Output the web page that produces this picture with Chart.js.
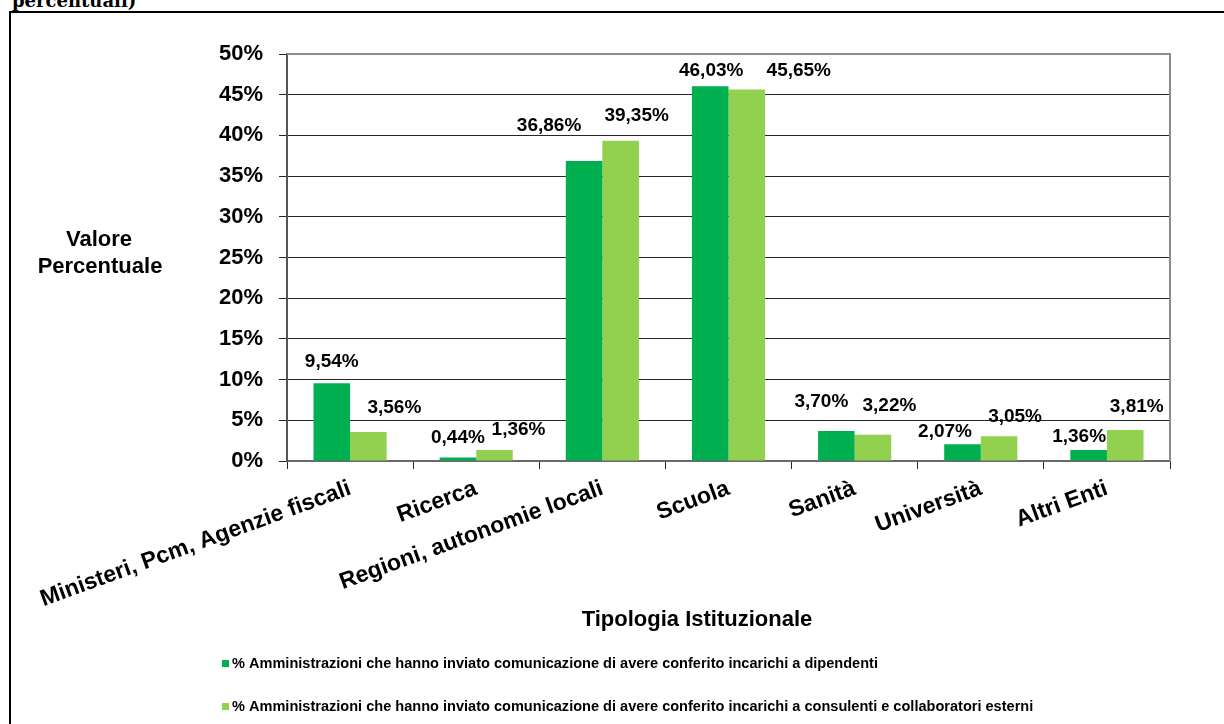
<!DOCTYPE html>
<html><head><meta charset="utf-8">
<script src="https://cdn.jsdelivr.net/npm/chart.js@4.4.1/dist/chart.umd.min.js"></script>
<style>
html,body{margin:0;padding:0;background:#fff;overflow:hidden;width:1224px;height:724px;}
#frame{position:absolute;left:9px;top:11px;width:1300px;height:800px;border:2px solid #000;}
#cap{position:absolute;left:12px;top:-8px;font:bold 18px "DejaVu Serif";line-height:18px;color:#000;white-space:nowrap;}
canvas{position:absolute;left:0;top:0;}
</style></head><body>
<div id="frame"></div>
<div id="cap">percentuali)</div>
<canvas id="c" width="1224" height="724"></canvas>
<script>
const categories = ["Ministeri, Pcm, Agenzie fiscali","Ricerca","Regioni, autonomie locali","Scuola","Sanità","Università","Altri Enti"];
const dipendenti = [9.54, 0.44, 36.86, 46.03, 3.70, 2.07, 1.36];
const consulenti = [3.56, 1.36, 39.35, 45.65, 3.22, 3.05, 3.81];
const seriesLabels = [
  "% Amministrazioni che hanno inviato comunicazione di avere conferito incarichi a dipendenti",
  "% Amministrazioni che hanno inviato comunicazione di avere conferito incarichi a consulenti e collaboratori esterni"
];
const yMax = 50, yStep = 5;
const xTitle = "Tipologia Istituzionale";
const yTitle = ["Valore", "Percentuale"];
// label placement offsets (presentation only)
const dipLabelOffsets = [[0,-22],[0,-20],[-35,-35],[1,-15.5],[-15,-29],[-17.5,-12.5],[-9.5,-13.5]];
const conLabelOffsets = [[26,-24.5],[24,-20.5],[16,-25],[52,-18.5],[16.5,-29.5],[16,-19],[11.5,-23.5]];

const DARK = '#00B050', LIGHT = '#92D050';
const FONT = '"Liberation Sans", Arial, sans-serif';

const decor = {
  id: 'decor',
  afterDraw(chart) {
    const {ctx, chartArea: a} = chart;
    ctx.save();
    ctx.strokeStyle = '#8c8c8c'; ctx.lineWidth = 2;
    ctx.beginPath(); ctx.moveTo(a.left, a.top); ctx.lineTo(a.right, a.top); ctx.lineTo(a.right, a.bottom); ctx.stroke();

    ctx.fillStyle = '#000'; ctx.textAlign = 'center'; ctx.textBaseline = 'middle';
    ctx.font = 'bold 19px ' + FONT;
    chart.data.datasets.forEach((ds, di) => {
      const meta = chart.getDatasetMeta(di);
      const offs = di === 0 ? dipLabelOffsets : conLabelOffsets;
      meta.data.forEach((bar, i) => {
        const t = ds.data[i].toFixed(2).replace('.', ',') + '%';
        ctx.fillText(t, bar.x + offs[i][0], bar.y + offs[i][1]);
      });
    });

    ctx.font = 'bold 22px ' + FONT;
    ctx.fillText(yTitle[0], 99, 240);
    ctx.fillText(yTitle[1], 100, 267);
    ctx.fillText(xTitle, 697, 620);

    // legend
    const rows = [664, 707];
    chart.data.datasets.forEach((ds, di) => {
      const y = rows[di];
      ctx.fillStyle = ds.backgroundColor;
      ctx.fillRect(222, y - 4, 7, 7);
      ctx.fillStyle = '#000';
      ctx.save();
      ctx.translate(232, y);
      ctx.scale(0.97, 1);
      ctx.textAlign = 'left';
      ctx.font = 'bold 15px ' + FONT;
      ctx.fillText(ds.label, 0, 0);
      ctx.restore();
    });
    ctx.restore();
  }
};

new Chart(document.getElementById('c'), {
  type: 'bar',
  data: {
    labels: categories,
    datasets: [
      {label: seriesLabels[0], data: dipendenti, backgroundColor: DARK, borderWidth: 0},
      {label: seriesLabels[1], data: consulenti, backgroundColor: LIGHT, borderWidth: 0}
    ]
  },
  options: {
    responsive: false,
    animation: false,
    devicePixelRatio: 1,
    categoryPercentage: 0.58,
    barPercentage: 1.0,
    layout: {padding: {top: 54, right: 54, bottom: 0, left: 0}},
    plugins: {legend: {display: false}, tooltip: {enabled: false}, title: {display: false}},
    scales: {
      x: {
        afterFit(s) { s.height = 263; },
        grid: {display: true, drawOnChartArea: false, drawTicks: true, tickLength: 8, color: '#262626', offset: true},
        border: {display: true, color: '#6a6a6a', width: 2},
        ticks: {autoSkip: false, minRotation: 20, maxRotation: 20, padding: 6, color: '#000', font: {family: FONT, size: 23, weight: 'bold'}}
      },
      y: {
        min: 0, max: yMax,
        afterFit(s) { s.width = 287; },
        grid: {color: '#262626', lineWidth: 1, tickLength: 8},
        border: {display: true, color: '#555', width: 2},
        ticks: {stepSize: yStep, padding: 16, color: '#000', font: {family: FONT, size: 22, weight: 'bold'}, callback: v => v + '%'}
      }
    }
  },
  plugins: [decor]
});
</script>
</body></html>
